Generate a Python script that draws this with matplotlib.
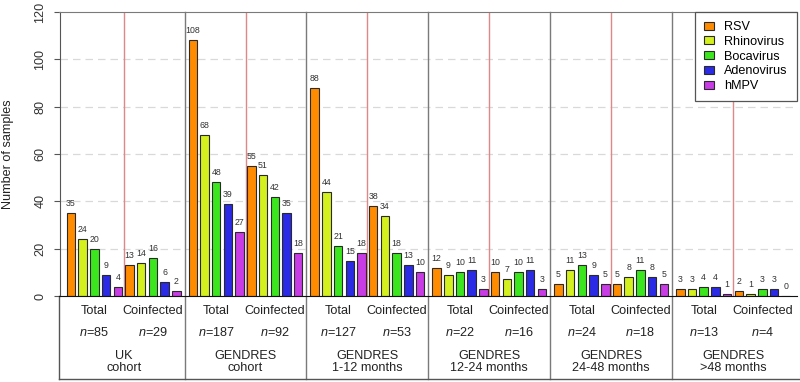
import matplotlib
matplotlib.use("Agg")
import matplotlib.pyplot as plt
import numpy as np

plt.rcParams['font.family'] = ['Liberation Sans', 'DejaVu Sans']
plt.rcParams['mathtext.fontset'] = 'custom'
plt.rcParams['mathtext.it'] = 'Liberation Sans:italic'
plt.rcParams['mathtext.rm'] = 'Liberation Sans'

viruses = ["RSV", "Rhinovirus", "Bocavirus", "Adenovirus", "hMPV"]
colors = ["#FF8C00", "#D4F01E", "#3CE61E", "#2B2BE6", "#C83CE6"]
groups = ["UK\ncohort", "GENDRES\ncohort", "GENDRES\n1-12 months",
          "GENDRES\n12-24 months", "GENDRES\n24-48 months", "GENDRES\n>48 months"]
subsets = ["Total", "Coinfected"]
n_values = [85, 29, 187, 92, 127, 53, 22, 16, 24, 18, 13, 4]

# each series: 12 values = (Total, Coinfected) for each of the 6 groups
rsv        = [35, 13, 108, 55, 88, 38, 12, 10, 5, 5, 3, 2]
rhinovirus = [24, 14, 68, 51, 44, 34, 9, 7, 11, 8, 3, 1]
bocavirus  = [20, 16, 48, 42, 21, 18, 10, 10, 13, 11, 4, 3]
adenovirus = [9, 6, 39, 35, 15, 13, 11, 11, 9, 8, 4, 3]
hmpv       = [4, 2, 27, 18, 18, 10, 3, 3, 5, 5, 1, 0]
series = [rsv, rhinovirus, bocavirus, adenovirus, hmpv]

fig = plt.figure(figsize=(8, 3.82), dpi=100)
ax = fig.add_axes([59.5 / 800, 1 - 296 / 382, (797 - 59.5) / 800, (296 - 12) / 382])

bw = 0.727
GW = 10.41          # group width in bar-pitch units
HW = 5              # half (subset) width
ng = len(groups)
fs = 9.1

for v, vals in enumerate(series):
    xs = [(s // 2) * GW + (s % 2) * HW + v + bw / 2 for s in range(len(vals))]
    ax.bar(xs, vals, width=bw, color=colors[v], edgecolor="#2a2a2a", linewidth=0.8,
           label=viruses[v], zorder=3)
    for x, val in zip(xs, vals):
        ax.annotate(str(val), (x, val), xytext=(0, 3.6), textcoords="offset points",
                    ha="center", va="bottom", fontsize=6.3, color="#333333", zorder=4)

ax.set_xlim(-0.615, 62.38)
ax.set_ylim(0, 120)

# grid
for yv in [20, 40, 60, 80, 100]:
    ax.axhline(yv, color="#d9d9d9", lw=0.9, ls=(0, (6, 4)), zorder=1)

ybot = -35.1
# separators and red midlines
for g in range(ng):
    red_x = g * GW + 4 + bw + (1 - bw) / 2
    ax.plot([red_x, red_x], [0, 120], color="#E08888", lw=1.0, zorder=2)
    if g > 0:
        sep = g * GW - (GW - 9 - bw) / 2
        ax.plot([sep, sep], [ybot, 120], color="#7a7a7a", lw=1.0, zorder=2, clip_on=False)
    for h in range(2):
        cx = g * GW + h * HW + 2 + bw / 2
        ax.text(cx, -6.4, subsets[h], ha="center", va="center", fontsize=fs, color="#222222",
                clip_on=False)
        ax.text(cx, -15.6, "$n$=%d" % n_values[2 * g + h], ha="center", va="center",
                fontsize=fs, color="#222222", clip_on=False)
    gx = g * GW + 4.5 + bw / 2
    ax.text(gx, -28.0, groups[g], ha="center", va="center", fontsize=fs, color="#222222",
            linespacing=0.95, clip_on=False)

xl = ax.get_xlim()
ax.plot([xl[0], xl[1] + 1], [ybot, ybot], color="#555555", lw=1.0, clip_on=False)
ax.plot([xl[0], xl[0]], [ybot, 0], color="#555555", lw=1.0, clip_on=False)

ax.spines["right"].set_visible(False)
ax.spines["top"].set_color("#7a7a7a")
ax.spines["left"].set_color("#555555")
ax.spines["bottom"].set_color("#111111")
ax.spines["bottom"].set_zorder(5)

ax.set_xticks([])
ax.set_yticks([0, 20, 40, 60, 80, 100, 120])
ax.set_yticklabels(["0", "20", "40", "60", "80", "100", "120"], rotation=90, va="center",
                   fontsize=fs, color="#333333")
ax.tick_params(axis="y", length=4.5, width=0.8, color="#555555", pad=5)
ax.set_ylabel("Number of samples", fontsize=fs, color="#222222")
ax.yaxis.set_label_coords(-0.062, 0.5)

leg = ax.legend(loc="upper right", bbox_to_anchor=(1.0, 1.0), borderaxespad=0,
                fontsize=fs, handlelength=0.75, handleheight=0.6, handletextpad=0.85,
                labelspacing=0.22, borderpad=0.72,
                fancybox=False, framealpha=1, edgecolor="#555555")
leg.get_frame().set_linewidth(0.9)
leg.set_zorder(10)

fig.savefig("out.png", dpi=100)
